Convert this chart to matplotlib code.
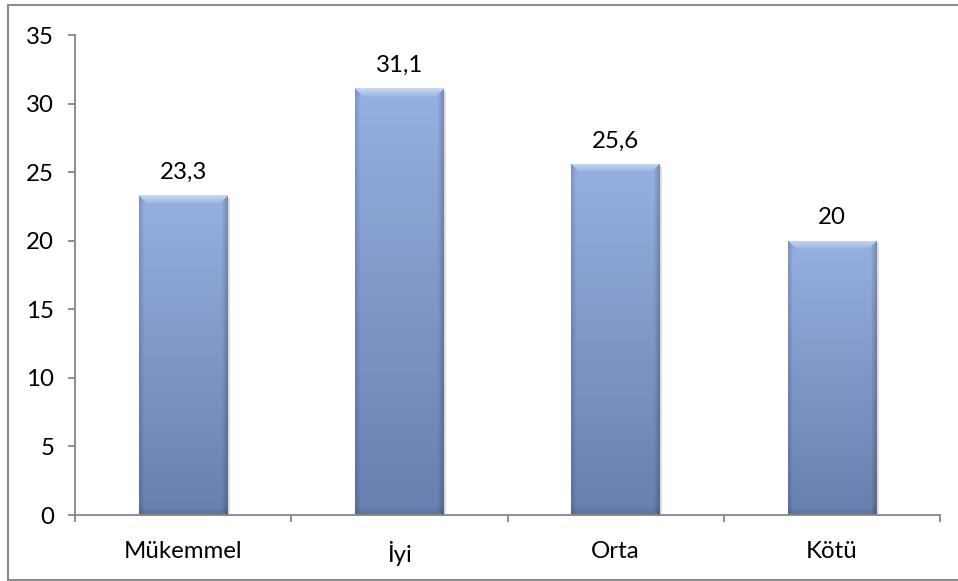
import numpy as np
import matplotlib
matplotlib.use("Agg")
import matplotlib.pyplot as plt
from matplotlib.lines import Line2D

categories = ["Mükemmel", "İyi", "Orta", "Kötü"]
values = [23.3, 31.1, 25.6, 20]
value_labels = ["23,3", "31,1", "25,6", "20"]
yticks = [0, 5, 10, 15, 20, 25, 30, 35]

plt.rcParams['font.family'] = ['Lato', 'DejaVu Sans']
FS = 17.3

W, H = 958, 581
fig = plt.figure(figsize=(W / 100, H / 100), dpi=100)
ax_l, ax_r, ax_t, ax_b = 75, 940, 35, 515
ax = fig.add_axes([ax_l / W, (H - ax_b) / H, (ax_r - ax_l) / W, (ax_b - ax_t) / H])

# figure border
bc = '#8c8c8c'
fig.add_artist(Line2D([8 / W, 8 / W], [1 - 4.5 / H, 1 - 580 / H], color=bc, lw=1.5, transform=fig.transFigure))
fig.add_artist(Line2D([8 / W, 1.0], [1 - 4.5 / H, 1 - 4.5 / H], color=bc, lw=1.5, transform=fig.transFigure))
fig.add_artist(Line2D([8 / W, 1.0], [1 - 580 / H, 1 - 580 / H], color=bc, lw=1.5, transform=fig.transFigure))

x = np.arange(len(categories))
bw = 0.41
ax.set_xlim(-0.5, len(categories) - 0.5)
ax.set_ylim(0, 35)

px_per_unit_x = (ax_r - ax_l) / len(categories)
px_per_unit_y = (ax_b - ax_t) / 35.0
# soft shadow bars
ax.bar(x + 2.5 / px_per_unit_x, values, bw, bottom=-2.5 / px_per_unit_y,
       color='#b8bcc4', alpha=0.5, zorder=1, linewidth=0)
bars = ax.bar(x, values, bw, color='none', linewidth=0, zorder=2)

top_c = np.array([150, 176, 225]) / 255.0
bot_c = np.array([104, 128, 176]) / 255.0
bevel_c = np.array([200, 216, 242]) / 255.0
for b, v, lab in zip(bars, values, value_labels):
    bx0 = b.get_x()
    bx1 = bx0 + b.get_width()
    wpx = int(round(b.get_width() * px_per_unit_x))
    hpx = int(round(v * px_per_unit_y))
    yy, xx = np.mgrid[0:hpx, 0:wpx]
    t = yy / max(hpx - 1, 1)
    img = top_c[None, None, :] * (1 - t[..., None]) + bot_c[None, None, :] * t[..., None]
    dl = xx
    dr = wpx - 1 - xx
    edge = np.ones_like(t)
    edge = np.where(dl < 5, 0.86 + 0.028 * dl, edge)
    edge = np.where(dr < 6, np.minimum(edge, 0.80 + 0.033 * dr), edge)
    img = img * edge[..., None]
    bev = 9
    mask_top = (yy < bev) & (xx >= yy) & (xx <= wpx - 1 - yy)
    s = (yy / bev)[..., None]
    bevel_col = bevel_c * (1 - s) + top_c * s
    img = np.where(mask_top[..., None], bevel_col, img)
    mask_ls = (yy < bev) & (xx < yy)
    img = np.where(mask_ls[..., None], img * 0.97, img)
    bb = 6
    mask_bot = (yy >= hpx - bb)
    img = np.where(mask_bot[..., None], img * 0.93, img)
    img = np.clip(img, 0, 1)
    im = ax.imshow(img, extent=(bx0, bx1, 0, v), aspect='auto', zorder=2,
                   interpolation='bilinear', origin='upper')
    im.set_clip_path(b)
    ax.annotate(lab, (b.get_x() + b.get_width() / 2, v),
                xytext=(0, 9), textcoords='offset points', ha='center', va='bottom',
                fontsize=FS, color='black')

ax.set_xlim(-0.5, len(categories) - 0.5)
ax.set_ylim(0, 35)

for s in ['top', 'right']:
    ax.spines[s].set_visible(False)
for s in ['left', 'bottom']:
    ax.spines[s].set_color('#868686')
    ax.spines[s].set_linewidth(1.3)
    ax.spines[s].set_zorder(3)

ax.set_yticks(yticks)
ax.set_yticklabels([str(t) for t in yticks], fontsize=FS)
ax.tick_params(axis='y', direction='out', length=5, width=1.3, color='#868686', pad=10)
ax.set_xticks(x)
ax.set_xticklabels(categories, fontsize=FS)
ax.set_xticks(np.arange(-0.5, len(categories)), minor=True)
ax.tick_params(axis='x', which='major', length=0, pad=19)
ax.tick_params(axis='x', which='minor', direction='out', length=5, width=1.3, color='#868686')

fig.savefig("out.png", dpi=100)
